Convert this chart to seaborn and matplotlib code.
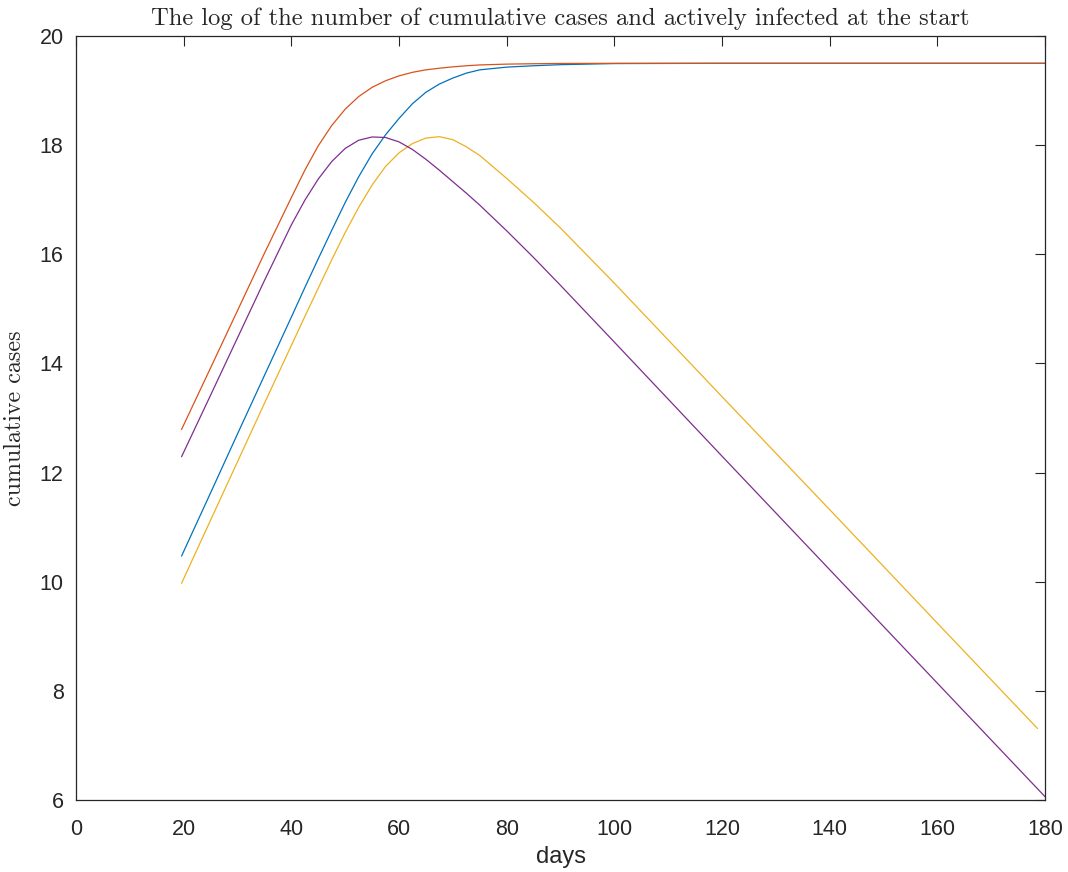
import numpy as np
import pandas as pd
import seaborn as sns
import matplotlib.pyplot as plt

# days (x values)
days = [19.6, 25, 30, 35, 40, 42.5, 45, 47.5, 50, 52.5, 55, 57.5, 60, 62.5, 65, 67.5,
        70, 72.5, 75, 80, 85, 90, 100, 120, 140, 160, 180]
days_late = days[:-1] + [178.6]

# log cumulative cases
cum_early = [12.79, 13.92, 14.97, 16.02, 17.04, 17.54, 17.99, 18.36, 18.66, 18.89, 19.06, 19.18,
             19.27, 19.335, 19.38, 19.41, 19.435, 19.455, 19.47, 19.485, 19.492, 19.497, 19.5,
             19.5, 19.5, 19.5, 19.5]
cum_late = [10.47, 11.63, 12.71, 13.78, 14.85, 15.39, 15.92, 16.44, 16.95, 17.42, 17.84, 18.19,
            18.49, 18.76, 18.97, 19.12, 19.23, 19.32, 19.38, 19.43, 19.455, 19.475, 19.495,
            19.5, 19.5, 19.5, 19.5]

# log actively infected
act_early = [12.29, 13.42, 14.47, 15.52, 16.54, 16.99, 17.38, 17.70, 17.94, 18.09, 18.15, 18.14,
             18.06, 17.92, 17.74, 17.54, 17.33, 17.12, 16.90, 16.43, 15.94, 15.43, 14.39,
             12.30, 10.22, 8.14, 6.06]
act_late = [9.97, 11.13, 12.20, 13.27, 14.33, 14.86, 15.38, 15.90, 16.40, 16.86, 17.27, 17.61,
            17.86, 18.03, 18.13, 18.155, 18.10, 17.97, 17.81, 17.39, 16.95, 16.48, 15.47,
            13.39, 11.32, 9.24, 7.31]

sns.set_style("white")
plt.rcParams['font.family'] = ['Liberation Sans', 'DejaVu Sans']

fig = plt.figure(figsize=(10.68, 8.72), dpi=100)
ax = fig.add_axes([0.0712, 0.0826, 0.9073, 0.8761])

# matlab default colour order
series = [(days, cum_late, "#0072BD"), (days, cum_early, "#D95319"),
          (days_late, act_late, "#EDB120"), (days, act_early, "#7E2F8E")]
for x, y, c in series:
    sns.lineplot(x=x, y=y, color=c, linewidth=0.9, ax=ax, sort=False)

ax.set_xlim(0, 180)
ax.set_ylim(6, 20)
ax.set_xticks(np.arange(0, 181, 20))
ax.set_yticks(np.arange(6, 21, 2))
ax.tick_params(direction='in', length=7, width=0.8, top=True, right=True,
               labelsize=15.5, colors='#262626')
ax.tick_params(axis='x', pad=14)
ax.tick_params(axis='y', pad=9)
for s in ax.spines.values():
    s.set_color('#262626')
    s.set_linewidth(0.9)

ax.set_title("The log of the number of cumulative cases and actively infected at the start",
             fontfamily='cmr10', fontsize=17.7, pad=8)
ax.set_xlabel("days", fontsize=17, color='#262626', labelpad=4)
ax.set_ylabel("cumulative cases", fontfamily='cmr10', fontsize=17.3, labelpad=10)

fig.savefig("out.png", dpi=100)
